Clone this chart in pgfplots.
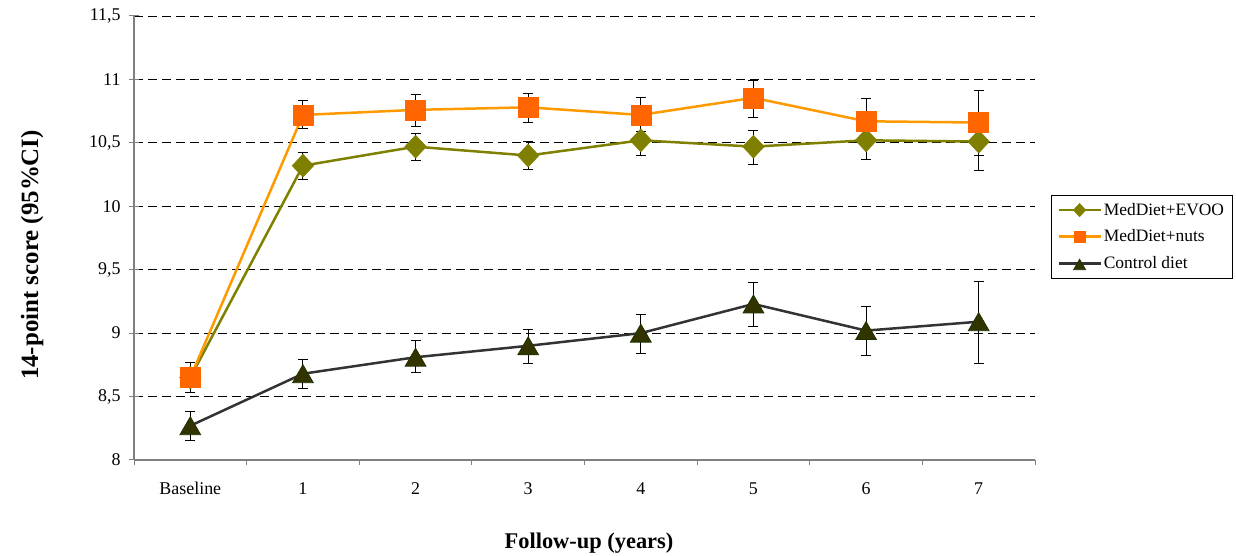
\documentclass[border=0pt]{standalone}
\usepackage{fontspec}
\setmainfont{Liberation Serif}
\usepackage{pgfplots}
\usepackage{pgfplotstable}
\pgfplotsset{compat=1.18}
\definecolor{evoo}{HTML}{808000}
\definecolor{nutsline}{HTML}{FF9900}
\definecolor{nutsfill}{HTML}{FF6600}
\definecolor{ctrlline}{HTML}{333333}
\definecolor{ctrlfill}{HTML}{333300}
\definecolor{ctrledge}{HTML}{1F3300}
\definecolor{axgray}{HTML}{808080}

\pgfplotstableread{
x y lo hi
0 8.65 8.53 8.77
1 10.32 10.21 10.42
2 10.47 10.36 10.57
3 10.40 10.29 10.51
4 10.52 10.40 10.64
5 10.47 10.33 10.60
6 10.52 10.37 10.65
7 10.51 10.28 10.74
}\evootab

\pgfplotstableread{
x y lo hi
0 8.65 8.53 8.77
1 10.72 10.61 10.83
2 10.76 10.63 10.88
3 10.78 10.66 10.89
4 10.72 10.59 10.86
5 10.855 10.70 10.99
6 10.67 10.49 10.85
7 10.66 10.40 10.91
}\nutstab

\pgfplotstableread{
x y lo hi
0 8.27 8.15 8.38
1 8.68 8.565 8.79
2 8.81 8.69 8.94
3 8.90 8.76 9.03
4 9.00 8.84 9.15
5 9.23 9.05 9.40
6 9.02 8.82 9.21
7 9.09 8.76 9.41
}\ctrltab

\begin{document}
\begin{tikzpicture}[x=1bp,y=1bp]
\path[use as bounding box] (0,0) rectangle (1236,556);
\begin{axis}[
  at={(134bp,96bp)}, anchor=south west,
  width=901bp, height=444bp, scale only axis,
  clip=false,
  xmin=-0.5, xmax=7.5, ymin=8, ymax=11.5,
  axis x line*=bottom, axis y line*=left,
  axis line style={axgray, line width=1.2bp, -},
  ytick={8,8.5,...,11.5},
  ymajorgrids,
  grid style={black, dash pattern=on 9bp off 5bp, line width=0.8bp},
  xtick={0,...,7},
  xticklabels={Baseline,1,2,3,4,5,6,7},
  xtick style={draw=none},
  ytick style={axgray, line width=1bp},
  tick align=center,
  major tick length=10bp,
  extra x ticks={-0.5,0.5,...,7.5},
  extra x tick labels={},
  extra x tick style={major tick length=5bp, tick align=outside, xtick style={axgray, line width=1bp, draw=axgray}},
  /pgf/number format/use comma,
  /pgf/number format/assume math mode=true,
  ticklabel style={font=\fontsize{18}{18}\selectfont},
  xticklabel style={yshift=-14bp},
  yticklabel style={xshift=-5bp},
  legend style={at={(axis description cs:1.0177,0.597)}, anchor=north west,
     draw=black, line width=0.8bp, font=\fontsize{17.5}{21}\selectfont,
     row sep=9bp, inner sep=6bp},
  legend cell align=left,
  legend image code/.code={%
    \draw[mark repeat=2,mark phase=2,every mark/.append style={scale=0.58}]
      plot coordinates {(0bp,0bp) (21bp,0bp) (42bp,0bp)};},
  error bars/y dir=both,
  error bars/y explicit,
  error bars/error bar style={black, line width=1bp},
  error bars/error mark options={rotate=90, mark size=5bp, black, line width=1bp},
]
\addplot[evoo, line width=2.5bp, mark=diamond*, mark size=11.5bp,
  mark options={xscale=1.25, fill=evoo, draw=evoo, line width=0.5bp}]
  table[x=x, y=y, y error plus expr=\thisrow{hi}-\thisrow{y}, y error minus expr=\thisrow{y}-\thisrow{lo}] {\evootab};
\addlegendentry{MedDiet+EVOO}
\addplot[nutsline, line width=2.5bp, mark=square*, mark size=10bp,
  mark options={fill=nutsfill, draw=nutsfill, line width=0.5bp}]
  table[x=x, y=y, y error plus expr=\thisrow{hi}-\thisrow{y}, y error minus expr=\thisrow{y}-\thisrow{lo}] {\nutstab};
\addlegendentry{MedDiet+nuts}
\addplot[ctrlline, line width=2.5bp, mark=triangle*, mark size=12bp,
  mark options={yshift=-3bp, fill=ctrlfill, draw=ctrledge, line width=0.8bp}]
  table[x=x, y=y, y error plus expr=\thisrow{hi}-\thisrow{y}, y error minus expr=\thisrow{y}-\thisrow{lo}] {\ctrltab};
\addlegendentry{Control diet}
\end{axis}
\node[anchor=base, font=\bfseries\fontsize{22.5}{22.5}\selectfont] at (589,7) {Follow-up (years)};
\node[rotate=90, anchor=base, font=\bfseries\fontsize{25}{25}\selectfont] at (38,301) {14-point score (95\%CI)};
\end{tikzpicture}
\end{document}
